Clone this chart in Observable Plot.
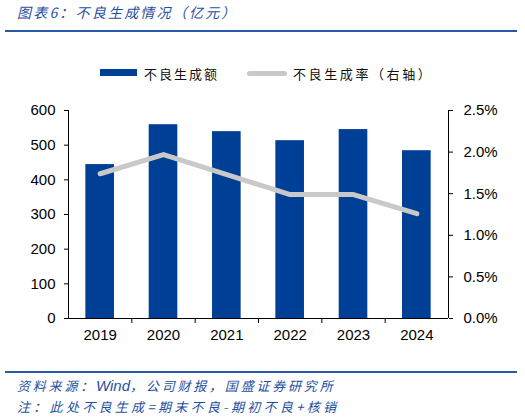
<!DOCTYPE html>
<html>
<head>
<meta charset="utf-8">
<script src="https://cdn.jsdelivr.net/npm/d3@7"></script>
<script src="https://cdn.jsdelivr.net/npm/@observablehq/plot@0.6"></script>
<style>
  body { margin: 0; background: #fff; }
  #wrap { position: relative; width: 525px; height: 419px; overflow: hidden; font-family: "Noto Sans CJK SC", sans-serif; }
  .blue { color: #1f4f9f; font-style: italic; position: absolute; left: 17px; white-space: nowrap; }
  .rule { position: absolute; left: 5px; width: 512px; height: 2px; background: #2a5aa6; }
  #chart { position: absolute; left: 0; top: 95px; }
  .leg { position: absolute; top: 64px; font-size: 13px; letter-spacing: 2px; color: #111; white-space: nowrap; }
</style>
</head>
<body>
<div id="wrap">
  <div class="blue" style="top:2px;font-size:14px;letter-spacing:2.2px">图表6：不良生成情况（亿元）</div>
  <div class="rule" style="top:30px"></div>
  <div style="position:absolute;left:100px;top:69px;width:37px;height:7px;background:#003f96"></div>
  <div class="leg" style="left:144px">不良生成额</div>
  <div style="position:absolute;left:247px;top:71px;width:40px;height:5px;border-radius:3px;background:#c9c9c9"></div>
  <div class="leg" style="left:293px;letter-spacing:2.6px">不良生成率（右轴）</div>
  <div id="chart"></div>
  <div class="rule" style="top:371px"></div>
  <div class="blue" style="top:376px;font-size:13px;letter-spacing:2.8px">资料来源：<span style="font-family:'Liberation Sans';font-size:15px;letter-spacing:0">Wind</span>，公司财报，国盛证券研究所</div>
  <div class="blue" style="top:397px;font-size:13px;letter-spacing:3.3px">注：此处不良生成=期末不良-期初不良+核销</div>
</div>
<script>
const years = [2019, 2020, 2021, 2022, 2023, 2024];
const amounts = [444, 559, 539, 513, 545, 484];       // 亿元
const rates = [1.74, 1.97, 1.73, 1.49, 1.49, 1.26];   // %
const leftTicks = [0, 100, 200, 300, 400, 500, 600];
const rightTicks = [0, 0.5, 1.0, 1.5, 2.0, 2.5];

const rows = years.map((year, i) => ({year, amount: amounts[i], rate: rates[i]}));
const k = 600 / 2.5; // right axis -> left axis units
const half = 0.226;

const chart = Plot.plot({
  width: 525,
  height: 255,
  marginLeft: 68,
  marginRight: 77,
  marginTop: 15,
  marginBottom: 32,
  style: {fontFamily: "'Liberation Sans', Arial, sans-serif", fontSize: "15px", color: "#000"},
  x: {type: "linear", domain: [years[0] - 0.5, years[years.length - 1] + 0.5], axis: null},
  y: {domain: [0, 600], axis: null},
  marks: [
    Plot.rectY(rows, {x1: d => d.year - half, x2: d => d.year + half, y: "amount", fill: "#003f96"}),
    Plot.line(rows, {x: "year", y: d => d.rate * k, stroke: "#c9c9c9", strokeWidth: 5, strokeLinecap: "round", strokeLinejoin: "round"}),
    Plot.ruleY([0], {stroke: "#000", strokeWidth: 1}),
    Plot.ruleX([years[0] - 0.5, years[years.length - 1] + 0.5], {y1: 0, y2: 600, stroke: "#000", strokeWidth: 1}),
    Plot.axisY(leftTicks, {anchor: "left", tickSize: 4, tickPadding: 9, fontSize: 15, label: null}),
    Plot.axisY(rightTicks, {anchor: "right", y: d => d * k, text: d => d.toFixed(1) + "%", tickSize: 4, tickPadding: 11, fontSize: 15, label: null}),
    Plot.axisX(years.slice(1).map(d => d - 0.5), {tickSize: 5, tickFormat: () => "", label: null}),
    Plot.axisX(years, {tickSize: 0, tickPadding: 11, tickFormat: d => String(d), fontSize: 15, label: null})
  ]
});

d3.select("#chart").append(() => chart);
</script>
</body>
</html>
